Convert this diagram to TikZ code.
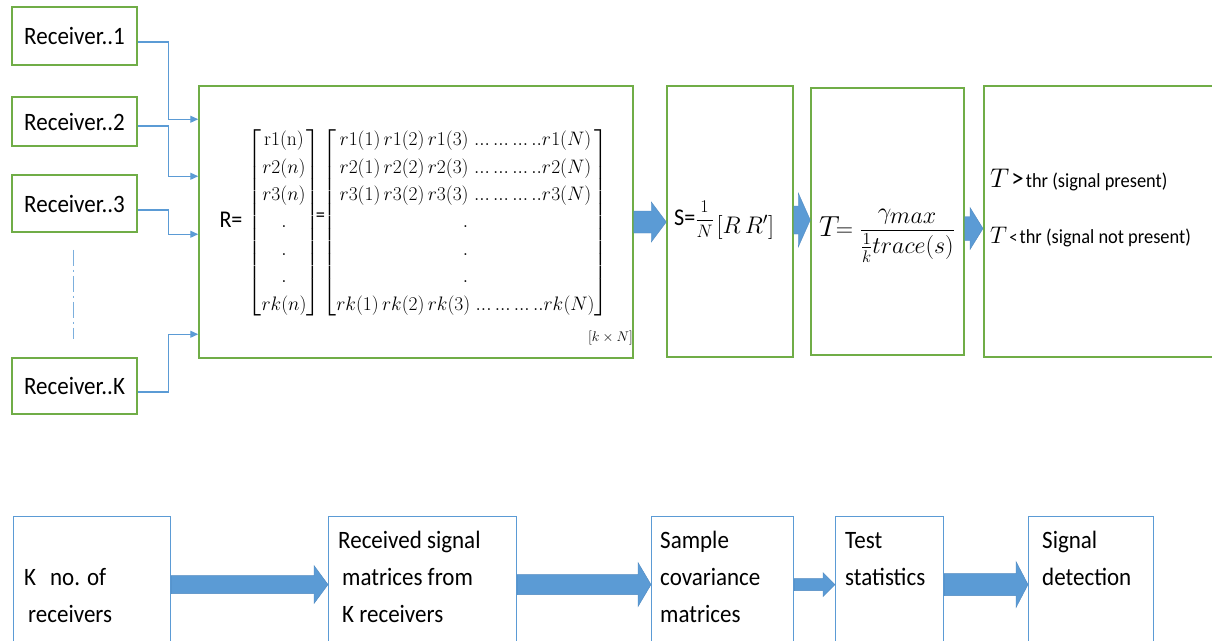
\RequirePackage{fix-cm}
\documentclass[tikz,border=0pt]{standalone}
\usepackage{amsmath}
\usepackage[no-math]{fontspec}
\setmainfont{Carlito}[FakeStretch=0.92]
\usetikzlibrary{calc,arrows.meta}
\definecolor{gboxc}{HTML}{70AD47}
\definecolor{blinec}{HTML}{5B9BD5}
\definecolor{bedgec}{HTML}{4F89C0}
\newcommand{\myfatarrow}[5]{%
  \path[fatarr] let \p1=(#1), \p2=(#2) in
    (\x1,\y1+#3) -- (\x2-#5,\y1+#3) -- (\x2-#5,\y1+#4) -- (\x2,\y1)
    -- (\x2-#5,\y1-#4) -- (\x2-#5,\y1-#3) -- (\x1,\y1-#3) -- cycle;}
\newcommand{\rowdots}{\;...\,...\,...\,..}
\begin{document}
\begin{tikzpicture}[x=1pt,y=-1pt,
  gbox/.style={draw=gboxc, line width=1.5pt, inner sep=0pt},
  rxbox/.style={gbox, minimum width=125pt, font=\fontsize{25}{30}\selectfont},
  bbox/.style={draw=blinec, line width=1.1pt, inner sep=0pt, minimum height=150pt, anchor=north west},
  feed/.style={draw=blinec, line width=1.2pt, -{Triangle[length=8pt,width=7pt]}},
  fatarr/.style={fill=blinec, draw=bedgec, line width=0.4pt},
  btxt/.style={anchor=base west, inner sep=0pt, font=\fontsize{25}{30}\selectfont},
  mat/.style={inner sep=0pt, font=\fontsize{19.5}{23}\selectfont\renewcommand\arraystretch{1.19}\setlength\arraycolsep{0pt}}
]
\fill[white] (0,0) rectangle (1212,640);
\clip (0,0) rectangle (1212,640);

% receivers
\node[rxbox, minimum height=58pt] (rx1) at (74.5,36) {Receiver..1};
\node[rxbox, minimum height=49pt] (rx2) at (74.5,121.5) {Receiver..2};
\node[rxbox, minimum height=57pt] (rx3) at (74.5,203.5) {Receiver..3};
\node[rxbox, minimum height=56pt] (rxK) at (74.5,386) {Receiver..K};

% main boxes
\node[gbox, minimum width=434pt, minimum height=272pt] (Rbox) at (416,222) {};
\node[gbox, minimum width=126pt, minimum height=271pt] (Sbox) at (730,221.5) {};
\node[gbox, minimum width=153pt, minimum height=267pt] (Tbox) at (887.5,221.5) {};
\node[gbox, minimum width=260pt, minimum height=271pt, anchor=west] (Dbox) at (983,221.5) {};

% R box content
\node[inner sep=0pt, font=\fontsize{24}{28}\selectfont] (Rlab) at (231,220) {R=};
\node[mat] (colv) at (284,222.5) {$\left[\begin{array}{c}\mathrm{r1(n)}\\ r2(n)\\ r3(n)\\ .\\ .\\ .\\ rk(n)\end{array}\right]$};
\node[inner sep=0pt, font=\fontsize{20}{24}\selectfont] (eqs) at (320.5,217) {=};
\node[mat] (bigm) at (465.5,222.5) {$\left[\begin{array}{c}
 r1(1)\,r1(2)\,r1(3)\rowdots r1(N)\\
 r2(1)\,r2(2)\,r2(3)\rowdots r2(N)\\
 r3(1)\,r3(2)\,r3(3)\rowdots r3(N)\\
 .\\ .\\ .\\
 rk(1)\,rk(2)\,rk(3)\rowdots rk(N)
 \end{array}\right]$};
\node[inner sep=0pt, anchor=east, font=\fontsize{14}{16}\selectfont] (kN) at (633,338) {$[k\times N]$};

% S box content
\node[inner sep=0pt, anchor=base west] (Sx) at (674,225) {{\fontsize{24}{28}\selectfont S=}{\fontsize{18}{22}\selectfont$\dfrac{1}{N}$}\hspace{3pt}{\fontsize{24}{28}\selectfont\raisebox{-8pt}{$[R\,R']$}}};

% T box content
\node[inner sep=0pt, anchor=base west] (Tx) at (819,236) {{\fontsize{29}{32}\selectfont$T$}{\fontsize{24}{28}\selectfont$\!=\dfrac{\gamma_{\textstyle max}}{\frac{1}{k}trace(s)}$}};

% decision box content
\node[inner sep=0pt, anchor=base west] (gt) at (990,187) {{\fontsize{27}{30}\selectfont$T$} {\fontsize{27}{30}\selectfont>} {\fontsize{20}{24}\selectfont thr (signal present)}};
\node[inner sep=0pt, anchor=base west] (lt) at (990,243) {{\fontsize{24}{28}\selectfont$T$} {\fontsize{18}{22}\selectfont<} {\fontsize{20}{24}\selectfont thr (signal not present)}};

% feed connectors
\coordinate (in1) at ($(Rbox.north west)+(0,34)$);
\coordinate (in2) at ($(Rbox.north west)+(0,91)$);
\coordinate (in3) at ($(Rbox.north west)+(0,149)$);
\coordinate (in4) at ($(Rbox.north west)+(0,249)$);
\draw[feed] ([yshift=-6pt]rx1.east) -- ++(31,0) |- (in1);
\draw[feed] ([yshift=-4.5pt]rx2.east) -- ++(31,0) |- (in2);
\draw[feed] ([yshift=-6.5pt]rx3.east) -- ++(31,0) |- (in3);
\draw[feed] ([yshift=-6pt]rxK.east) -- ++(31,0) |- (in4);
\draw[draw=blinec!80, line width=1pt, dash pattern=on 16pt off 4pt on 2pt off 4pt]
  ($(rx3.south)+(-1.5,17)$) -- ($(rxK.north)+(-1.5,-18)$);

% top fat arrows
\myfatarrow{Rbox.east}{Sbox.west |- Rbox.east}{11pt}{20pt}{15pt}
\coordinate (a2) at ([yshift=1.5pt]Sbox.east);
\myfatarrow{a2}{Tbox.west |- a2}{14pt}{27pt}{12pt}
\coordinate (a3) at ([yshift=-7pt]Tbox.east);
\myfatarrow{a3}{Dbox.west |- a3}{12pt}{21pt}{13pt}

% bottom flow
\node[bbox, minimum width=157pt] (b1) at (13,516) {};
\node[bbox, minimum width=188pt] (b2) at (328,516) {};
\node[bbox, minimum width=142pt] (b3) at (651,516) {};
\node[bbox, minimum width=108pt] (b4) at (835,516) {};
\node[bbox, minimum width=125pt] (b5) at (1028,516) {};

\node[btxt] (t1a) at (24,585) {K\hspace{14pt}no. of};
\node[btxt] (t1b) at (28,622) {receivers};
\node[btxt] (t2a) at (338,548) {Received signal};
\node[btxt] (t2b) at (342,585) {matrices from};
\node[btxt] (t2c) at (342,622) {K receivers};
\node[btxt] (t3a) at (660,548) {Sample};
\node[btxt] (t3b) at (660,585) {covariance};
\node[btxt] (t3c) at (660,622) {matrices};
\node[btxt] (t4a) at (845,548) {Test};
\node[btxt] (t4b) at (845,585) {statistics};
\node[btxt] (t5a) at (1042,548) {Signal};
\node[btxt] (t5b) at (1042,585) {detection};

\coordinate (c1) at ([yshift=7pt]b1.east);
\myfatarrow{c1}{b2.west |- c1}{9pt}{19pt}{14pt}
\coordinate (c2) at ([yshift=7pt]b2.east);
\myfatarrow{c2}{b3.west |- c2}{10pt}{22pt}{13pt}
\coordinate (c3) at ([yshift=7pt]b3.east);
\myfatarrow{c3}{b4.west |- c3}{6pt}{12pt}{12pt}
\coordinate (c4) at ([yshift=7pt]b4.east);
\myfatarrow{c4}{b5.west |- c4}{11pt}{23pt}{12pt}
\end{tikzpicture}
\end{document}
